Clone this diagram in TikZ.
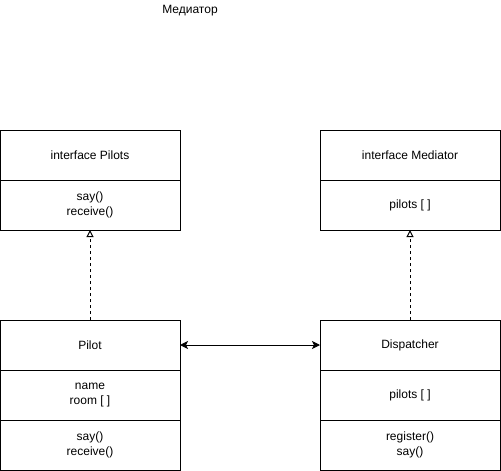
\documentclass[tikz,border=0pt]{standalone}
\usepackage{fontspec}
\setmainfont{Liberation Sans}
\usetikzlibrary{positioning,arrows.meta}
\begin{document}
\begin{tikzpicture}[>=Stealth,x=1pt,y=-1pt,line width=1pt,
		cell/.style={draw,minimum width=180pt,minimum height=50pt,inner sep=0pt,outer sep=0pt,align=center,font=\fontsize{12}{15}\selectfont},
		realize/.style={dash pattern=on 3pt off 3pt,-{Triangle[open,length=7pt,width=7pt]}},
		link/.style={{Stealth[length=8pt,width=8pt,inset=2pt]}-{Stealth[length=8pt,width=8pt,inset=2pt]}}]
		\useasboundingbox (0,0) rectangle (501,471);
		\node[font=\fontsize{12}{15}\selectfont] (title) at (190,11) {Медиатор};
		% interfaces
		\node[cell] (pilotsHead) at (90,155) {interface Pilots};
		\node[cell,below=0pt of pilotsHead] (pilotsOps) {say()\\receive()};
		\node[cell] (mediatorHead) at (410,155) {interface Mediator};
		\node[cell,below=0pt of mediatorHead] (mediatorAttr) {pilots [ ]};
		% classes
		\node[cell] (pilotHead) at (90,345) {Pilot};
		\node[cell,below=0pt of pilotHead] (pilotAttr) {name\\room [ ]};
		\node[cell,below=0pt of pilotAttr] (pilotOps) {say()\\receive()};
		\node[cell] (dispHead) at (410,345) {Dispatcher};
		\node[cell,below=0pt of dispHead] (dispAttr) {pilots [ ]};
		\node[cell,below=0pt of dispAttr] (dispOps) {register()\\say()};
		% relations
		\draw[realize] (pilotHead.north) -- (pilotsOps.south);
		\draw[realize] (dispHead.north) -- (mediatorAttr.south);
		\draw[link] (pilotHead.east) -- (dispHead.west);
\end{tikzpicture}
\end{document}
